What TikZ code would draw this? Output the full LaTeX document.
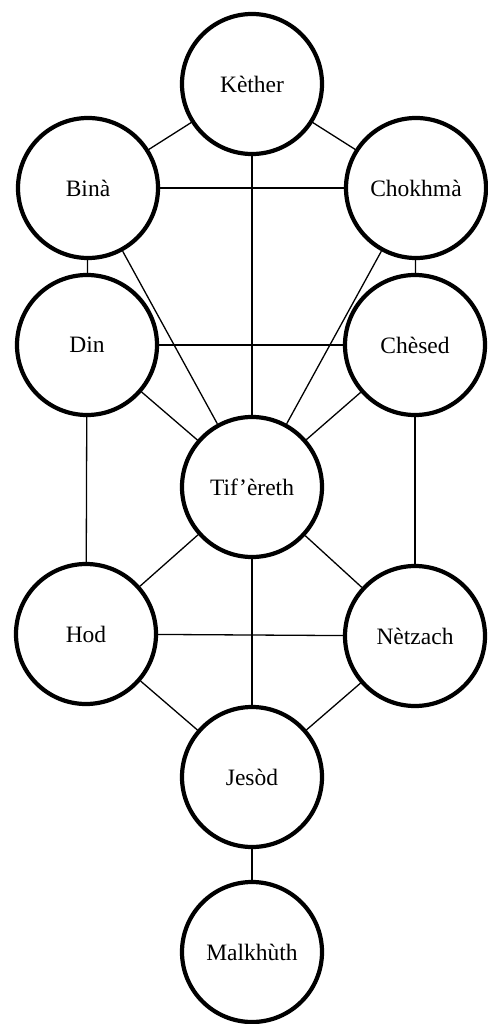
\documentclass[tikz,border=0pt]{standalone}
\usepackage{fontspec}
\setmainfont{Liberation Serif}
\usepackage{tikz}
\tikzset{%
  sefedge/.style={line width=1.3pt},
  sefnode/.style={circle, draw=black, line width=4.2pt, minimum size=140pt, inner sep=0pt,
    font=\fontsize{23.5}{27}\selectfont}
}
\begin{document}
\begin{tikzpicture}[x=1pt, y=-1pt]
\useasboundingbox (0,0) rectangle (487,1024);

\node (K) [sefnode] at (252, 84) {Kèther};
\node (B) [sefnode] at (88, 188) {Binà};
\node (C) [sefnode] at (416, 188) {Chokhmà};
\node (D) [sefnode] at (87, 345) {Din};
\node (S) [sefnode] at (415, 345) {Chèsed};
\node (T) [sefnode] at (252, 487) {Tif’èreth};
\node (H) [sefnode] at (86, 634) {Hod};
\node (N) [sefnode] at (415, 636) {Nètzach};
\node (J) [sefnode] at (252, 777) {Jesòd};
\node (M) [sefnode] at (252, 952) {Malkhùth};

% Pfade
\foreach \a/\b in {K/B, K/C, K/T, B/C, B/D, C/S, B/T, C/T, D/S, D/T, S/T,
                   D/H, S/N, T/H, T/N, T/J, H/N, H/J, N/J, J/M} {
  \draw [sefedge] (\a) -- (\b);
}
\end{tikzpicture}
\end{document}
